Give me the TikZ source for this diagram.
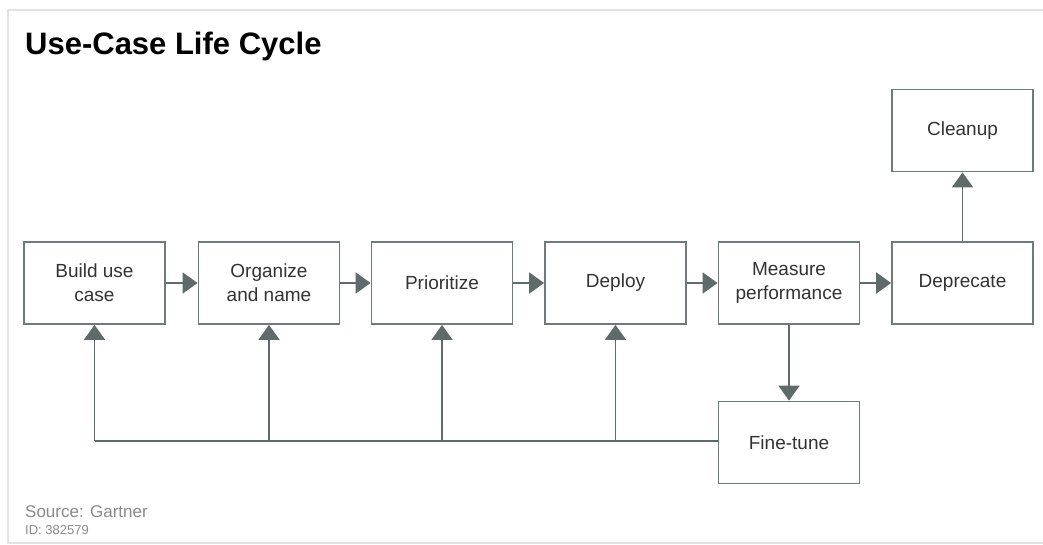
\documentclass[tikz,border=0pt]{standalone}
\usepackage{fontspec}
\setmainfont{Liberation Sans}
\usetikzlibrary{arrows.meta}
\definecolor{flow}{HTML}{5F6B6B}
\definecolor{boxline}{HTML}{6F7A7A}
\definecolor{txt}{HTML}{333333}
\definecolor{note}{HTML}{8A8A8A}
\definecolor{frame}{HTML}{E2E2E2}
\tikzset{
  stage/.style={draw=boxline, line width=1.8pt, fill=white, minimum width=141pt,
    minimum height=82pt, align=center, inner sep=0pt, text=txt,
    font=\fontsize{19}{24}\selectfont},
  flowarrow/.style={draw=flow, line width=1.8pt,
    -{Triangle[length=15pt,width=21pt]}},
  flowline/.style={draw=flow, line width=1.8pt}
}
\begin{document}
\begin{tikzpicture}[x=1pt,y=-1pt]
\useasboundingbox (0,0) rectangle (1043,545);
\fill[white] (0,0) rectangle (1043,545);
% outer frame
\draw[frame, line width=1.5pt] (1045,10) -- (8,10) -- (8,543) -- (1045,543);

% title and source note
\node[anchor=base west, inner sep=0pt, font=\bfseries\fontsize{31}{36}\selectfont, text=black]
  (title) at (25,55) {Use-Case Life Cycle};
\node[anchor=base west, inner sep=0pt, font=\fontsize{17}{20}\selectfont, text=note]
  (source) at (25,517) {Source: Gartner};
\node[anchor=base west, inner sep=0pt, font=\fontsize{13}{15}\selectfont, text=note]
  (id) at (25,534) {ID: 382579};

% stages
\node[stage] (build)   at (94.5,283)  {Build use\\case};
\node[stage] (organize) at (269,283)  {Organize\\and name};
\node[stage] (prior)   at (442,283)   {Prioritize};
\node[stage] (deploy)  at (615.5,283) {Deploy};
\node[stage] (measure) at (789,283)   {Measure\\performance};
\node[stage] (deprec)  at (962.5,283) {Deprecate};
\node[stage] (cleanup) at (962.5,130.5) {Cleanup};
\node[stage] (fine)    at (789,442.5) {Fine-tune};

% main flow
\draw[flowarrow] (build) -- (organize);
\draw[flowarrow] (organize) -- (prior);
\draw[flowarrow] (prior) -- (deploy);
\draw[flowarrow] (deploy) -- (measure);
\draw[flowarrow] (measure) -- (deprec);
\draw[flowarrow] (deprec) -- (cleanup);
\draw[flowarrow] (measure) -- (fine);

% feedback loop from fine-tuning
\coordinate (fb) at (94.5,441);
\draw[flowline] (fine.west |- fb) -- (fb);
\draw[flowarrow] (fb) -- (build);
\draw[flowarrow] (organize |- fb) -- (organize);
\draw[flowarrow] (prior |- fb) -- (prior);
\draw[flowarrow] (deploy |- fb) -- (deploy);
\end{tikzpicture}
\end{document}
